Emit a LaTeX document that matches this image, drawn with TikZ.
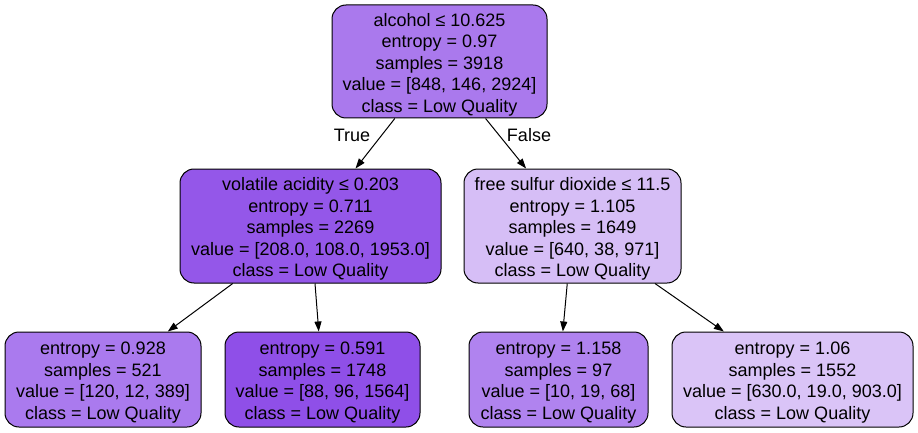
\documentclass[tikz,border=0pt]{standalone}
\usepackage{fontspec}
\setmainfont{Liberation Sans}
\usetikzlibrary{arrows.meta}
\definecolor{c0}{RGB}{170,121,237}
\definecolor{c1}{RGB}{148,87,233}
\definecolor{c2}{RGB}{170,122,238}
\definecolor{c3}{RGB}{143,79,232}
\definecolor{c4}{RGB}{214,190,246}
\definecolor{c5}{RGB}{176,131,239}
\definecolor{c6}{RGB}{218,196,247}
% strut that lowers the text block inside its box
\newcommand{\topstrut}{\rule{0pt}{19pt}}
\tikzset{
  treenode/.style={draw=black, line width=1pt, rounded corners=14pt, align=center,
    inner sep=0pt, font=\fontsize{18}{21.5}\selectfont},
  leafnode/.style={treenode, minimum height=95pt},
  splitnode/.style={treenode, minimum height=114pt},
  edge/.style={line width=1pt, -{Triangle[length=10pt,width=7pt]}},
  edgelabel/.style={font=\fontsize{18}{21.5}\selectfont, inner sep=0pt}
}
\begin{document}
\begin{tikzpicture}[x=1pt,y=-1pt]
\useasboundingbox (0,0) rectangle (918,433);
\node[splitnode, fill=c0, minimum width=215pt, minimum height=113pt] (n0) at (439.5,61.5)
  {\topstrut alcohol ≤ 10.625\\entropy = 0.97\\samples = 3918\\value = [848, 146, 2924]\\class = Low Quality};
\node[splitnode, fill=c1, minimum width=261pt] (n1) at (310.5,226)
  {\topstrut volatile acidity ≤ 0.203\\entropy = 0.711\\samples = 2269\\value = [208.0, 108.0, 1953.0]\\class = Low Quality};
\node[splitnode, fill=c4, minimum width=217pt] (n4) at (572.5,226)
  {\topstrut free sulfur dioxide ≤ 11.5\\entropy = 1.105\\samples = 1649\\value = [640, 38, 971]\\class = Low Quality};
\node[leafnode, fill=c2, minimum width=196pt] (n2) at (103,379.5)
  {\topstrut entropy = 0.928\\samples = 521\\value = [120, 12, 389]\\class = Low Quality};
\node[leafnode, fill=c3, minimum width=195pt] (n3) at (322.5,379.5)
  {\topstrut entropy = 0.591\\samples = 1748\\value = [88, 96, 1564]\\class = Low Quality};
\node[leafnode, fill=c5, minimum width=179pt] (n5) at (558.5,379.5)
  {\topstrut entropy = 1.158\\samples = 97\\value = [10, 19, 68]\\class = Low Quality};
\node[leafnode, fill=c6, minimum width=241pt] (n6) at (792.5,379.5)
  {\topstrut entropy = 1.06\\samples = 1552\\value = [630.0, 19.0, 903.0]\\class = Low Quality};
\draw[edge] (n0) -- (n1);
\draw[edge] (n0) -- (n4);
\draw[edge] (n1) -- (n2);
\draw[edge] (n1) -- (n3);
\draw[edge] (n4) -- (n5);
\draw[edge] (n4) -- (n6);
\node[edgelabel] (ltrue) at (352,135) {True};
\node[edgelabel] (lfalse) at (529,135) {False};
\end{tikzpicture}
\end{document}
